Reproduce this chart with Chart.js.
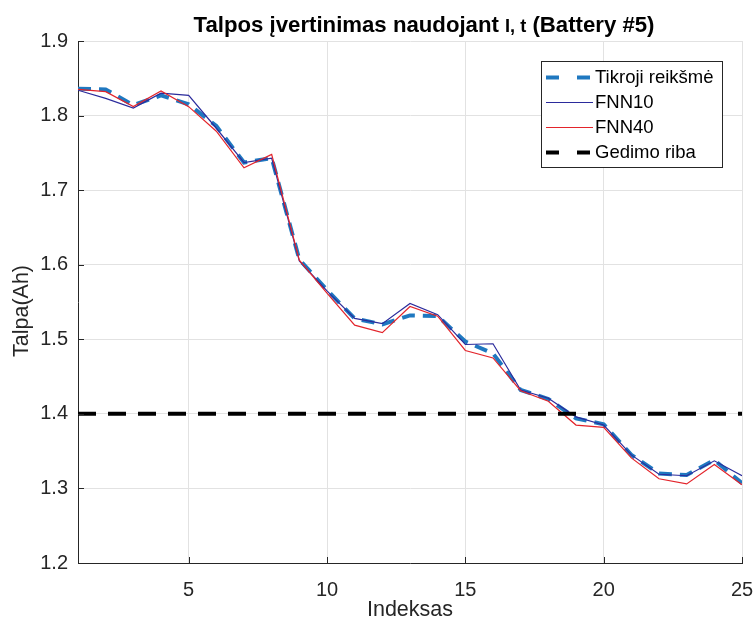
<!DOCTYPE html>
<html>
<head>
<meta charset="utf-8">
<script src="https://cdn.jsdelivr.net/npm/chart.js@4.4.0/dist/chart.umd.min.js"></script>
<style>
  html, body { margin: 0; padding: 0; background: #ffffff; }
  #wrap { width: 755px; height: 623px; position: relative; }
</style>
</head>
<body>
<div id="wrap"><canvas id="chart" width="755" height="623"></canvas></div>
<script>
// Measurement index (cycle number)
const indices = [1, 2, 3, 4, 5, 6, 7, 8, 9, 10, 11, 12, 13, 14, 15, 16, 17, 18, 19, 20, 21, 22, 23, 24, 25];

// Measured capacity, Ah
const trueCapacity = [1.836, 1.835, 1.814, 1.827, 1.815, 1.786, 1.737, 1.743, 1.607, 1.566,
                      1.528, 1.520, 1.532, 1.531, 1.497, 1.481, 1.432, 1.420, 1.394, 1.386,
                      1.345, 1.320, 1.318, 1.338, 1.307];

// Network estimates, Ah
const fnn10 = [1.834, 1.823, 1.810, 1.830, 1.827, 1.783, 1.737, 1.743, 1.605, 1.565,
               1.528, 1.521, 1.548, 1.533, 1.493, 1.494, 1.432, 1.421, 1.396, 1.385,
               1.345, 1.319, 1.317, 1.337, 1.317];
const fnn40 = [1.835, 1.832, 1.812, 1.833, 1.812, 1.779, 1.730, 1.748, 1.606, 1.562,
               1.519, 1.509, 1.544, 1.531, 1.485, 1.475, 1.431, 1.417, 1.385, 1.382,
               1.341, 1.313, 1.306, 1.332, 1.305];

// End-of-life threshold, Ah
const failureLimit = 1.4;

// Axis ticks
const xTickValues = [5, 10, 15, 20, 25];
const yTickValues = [1.2, 1.3, 1.4, 1.5, 1.6, 1.7, 1.8, 1.9];

const seriesNames = ['Tikroji reikšmė', 'FNN10', 'FNN40', 'Gedimo riba'];
const yAxisTitle = 'Talpa(Ah)';

const toPoints = (vals) => indices.map((x, i) => ({ x: x, y: vals[i] }));

const AXIS_COLOR = '#262626';
const GRID_COLOR = '#e2e2e2';
const FONT = '"Liberation Sans", Arial, Helvetica, sans-serif';

// Title with a smaller "I, t" fragment, centred over the plot
const titlePlugin = {
  id: 'mixedTitle',
  afterDraw(chart) {
    const ctx = chart.ctx;
    const parts = [
      { t: 'Talpos įvertinimas naudojant ', f: 'bold 22px ' + FONT },
      { t: 'I, t', f: 'bold 18px ' + FONT },
      { t: ' (Battery #5)', f: 'bold 22px ' + FONT }
    ];
    ctx.save();
    let total = 0;
    parts.forEach(p => { ctx.font = p.f; p.w = ctx.measureText(p.t).width; total += p.w; });
    const targetW = 461;
    const sx = targetW / total;
    ctx.translate(424 - targetW / 2, 32);
    ctx.scale(sx, 1);
    ctx.fillStyle = '#000';
    ctx.textBaseline = 'alphabetic';
    ctx.textAlign = 'left';
    let x = 0;
    parts.forEach(p => { ctx.font = p.f; ctx.fillText(p.t, x, 0); x += p.w; });
    ctx.restore();
  }
};

// Rotated y-axis title
const yTitlePlugin = {
  id: 'yTitle',
  afterDraw(chart) {
    const ctx = chart.ctx;
    ctx.save();
    ctx.translate(22, 311);
    ctx.rotate(-Math.PI / 2);
    ctx.font = '21.5px ' + FONT;
    ctx.fillStyle = AXIS_COLOR;
    ctx.textAlign = 'center';
    ctx.textBaseline = 'middle';
    ctx.fillText(yAxisTitle, 0, 0);
    ctx.restore();
  }
};

// Inward tick marks on the left and bottom axes
const innerTicks = {
  id: 'innerTicks',
  afterDatasetsDraw(chart) {
    const { ctx, chartArea: a, scales: { x, y } } = chart;
    ctx.save();
    ctx.strokeStyle = AXIS_COLOR;
    ctx.lineWidth = 1;
    ctx.beginPath();
    xTickValues.forEach(v => {
      const px = Math.round(x.getPixelForValue(v)) + 0.5;
      ctx.moveTo(px, a.bottom); ctx.lineTo(px, a.bottom - 6);
    });
    yTickValues.forEach(v => {
      const py = Math.round(y.getPixelForValue(v)) + 0.5;
      ctx.moveTo(a.left, py); ctx.lineTo(a.left + 6, py);
    });
    ctx.stroke();
    ctx.restore();
  }
};

// Boxed legend in the upper right of the plot
const boxLegend = {
  id: 'boxLegend',
  afterDraw(chart) {
    const ctx = chart.ctx;
    const bx = 541, by = 61, bw = 181, bh = 106;
    ctx.save();
    ctx.fillStyle = '#ffffff';
    ctx.fillRect(bx, by, bw, bh);
    ctx.strokeStyle = '#262626';
    ctx.lineWidth = 1;
    ctx.strokeRect(bx + 0.5, by + 0.5, bw, bh);
    ctx.font = '18.5px ' + FONT;
    ctx.textBaseline = 'middle';
    ctx.textAlign = 'left';
    chart.data.datasets.forEach((ds, i) => {
      const ry = by + 16.5 + i * 25;
      ctx.beginPath();
      ctx.strokeStyle = ds.borderColor;
      ctx.lineWidth = ds.borderWidth;
      ctx.setLineDash(ds.borderDash && ds.borderDash.length ? [13, 18] : []);
      ctx.moveTo(bx + 5, ry);
      ctx.lineTo(bx + 52, ry);
      ctx.stroke();
      ctx.setLineDash([]);
      ctx.fillStyle = '#000';
      ctx.fillText(ds.label, bx + 54, ry);
    });
    ctx.restore();
  }
};

const chart = new Chart(document.getElementById('chart'), {
  type: 'line',
  data: {
    datasets: [
      {
        label: seriesNames[0],
        data: toPoints(trueCapacity),
        borderColor: '#1f78c0',
        borderWidth: 4,
        borderDash: [13, 8],
        order: 4
      },
      {
        label: seriesNames[1],
        data: toPoints(fnn10),
        borderColor: '#2b2b9c',
        borderWidth: 1.2,
        order: 3
      },
      {
        label: seriesNames[2],
        data: toPoints(fnn40),
        borderColor: '#e3242b',
        borderWidth: 1.2,
        order: 2
      },
      {
        label: seriesNames[3],
        data: [{ x: indices[0], y: failureLimit }, { x: indices[indices.length - 1], y: failureLimit }],
        borderColor: '#000000',
        borderWidth: 4,
        borderDash: [18, 12],
        order: 1
      }
    ]
  },
  options: {
    responsive: false,
    animation: false,
    devicePixelRatio: 1,
    layout: { padding: { top: 41, right: 13, left: 0, bottom: 0 } },
    elements: { point: { radius: 0, hoverRadius: 0 }, line: { tension: 0, fill: false } },
    plugins: { legend: { display: false }, title: { display: false }, tooltip: { enabled: false } },
    scales: {
      x: {
        type: 'linear',
        min: 1,
        max: 25,
        afterBuildTicks: (s) => { s.ticks = xTickValues.map(v => ({ value: v })); },
        afterFit: (s) => { s.height = 60; s.paddingLeft = 0; s.paddingRight = 0; },
        grid: { color: GRID_COLOR, drawTicks: false, lineWidth: 1 },
        border: { color: AXIS_COLOR, width: 1 },
        ticks: { color: AXIS_COLOR, font: { family: FONT, size: 20 }, padding: 15, maxRotation: 0 },
        title: { display: true, text: 'Indeksas', color: AXIS_COLOR, font: { family: FONT, size: 21.5 }, padding: { top: 0, bottom: 0 } }
      },
      y: {
        type: 'linear',
        min: 1.2,
        max: 1.9,
        afterBuildTicks: (s) => { s.ticks = yTickValues.map(v => ({ value: v })); },
        afterFit: (s) => { s.width = 78; s.paddingTop = 0; s.paddingBottom = 0; },
        grid: { color: GRID_COLOR, drawTicks: false, lineWidth: 1 },
        border: { color: AXIS_COLOR, width: 1 },
        ticks: { color: AXIS_COLOR, font: { family: FONT, size: 20 }, padding: 10, callback: (v) => Number(v).toFixed(1) }
      }
    }
  },
  plugins: [innerTicks, titlePlugin, yTitlePlugin, boxLegend]
});
</script>
</body>
</html>
